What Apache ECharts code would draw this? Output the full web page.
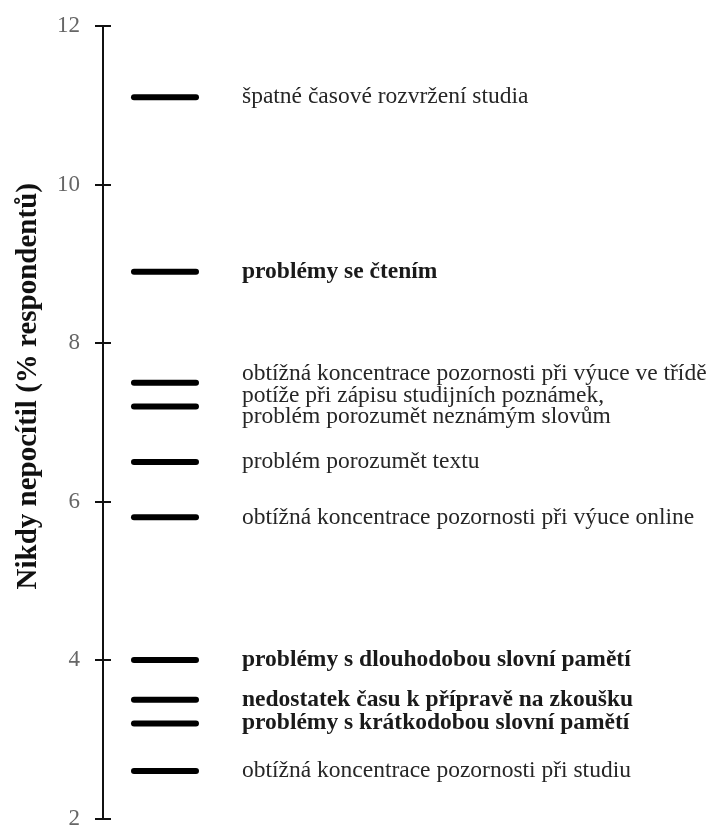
<!DOCTYPE html>
<html>
<head>
<meta charset="utf-8">
<script src="https://cdn.jsdelivr.net/npm/echarts@6/dist/echarts.min.js"></script>
<style>
  html, body { margin: 0; padding: 0; background: #fff; }
  #main { width: 712px; height: 830px; }
</style>
</head>
<body>
<div id="main"></div>
<script>
// data
const labels = [
  "špatné časové rozvržení studia",
  "problémy se čtením",
  "obtížná koncentrace pozornosti při výuce ve třídě",
  "potíže při zápisu studijních poznámek,\nproblém porozumět neznámým slovům",
  "problém porozumět textu",
  "obtížná koncentrace pozornosti při výuce online",
  "problémy s dlouhodobou slovní pamětí",
  "nedostatek času k přípravě na zkoušku",
  "problémy s krátkodobou slovní pamětí",
  "obtížná koncentrace pozornosti při studiu"
]
const values = [11.1, 8.9, 7.5, 7.2, 6.5, 5.8, 4.0, 3.5, 3.2, 2.6]
const yTicks = [2, 4, 6, 8, 10, 12]
const axisTitle = "Nikdy nepocítil (% respondentů)"

// chart
const serif = "'Liberation Serif', 'DejaVu Serif', serif"
const boldOnes = [1, 6, 7, 8]
const markX = 0.1033

const points = values.map((v, i) => ({
  value: [markX, v],
  label: {
    fontWeight: boldOnes.includes(i) ? "bold" : "normal",
    color: boldOnes.includes(i) ? "#1a1a1a" : "#262626",
    offset: i === 2 ? [0, -9] : [0, 0],
    formatter: labels[i]
  }
}))

const yBase = {
  type: "value",
  min: yTicks[0],
  max: yTicks[yTicks.length - 1],
  interval: 2,
  position: "left",
  splitLine: { show: false }
}

const options = {
  animation: false,
  grid: { left: 103, right: 9, top: 26, bottom: 8 },
  xAxis: { type: "value", min: 0, max: 1, show: false },
  yAxis: [
    {
      ...yBase,
      name: axisTitle,
      nameLocation: "middle",
      nameGap: 60,
      nameTextStyle: {
        fontFamily: serif, fontWeight: "bold", fontSize: 29, color: "#111",
        padding: [0, 0, 0, 72]
      },
      axisLine: { show: true, lineStyle: { color: "#111", width: 2 } },
      axisTick: { show: true, length: 8, lineStyle: { color: "#111", width: 2 } },
      axisLabel: { fontFamily: serif, fontSize: 23, color: "#666", margin: 23 }
    },
    {
      ...yBase,
      axisLine: { show: false },
      axisTick: { show: true, inside: true, length: 8, lineStyle: { color: "#111", width: 2 } },
      axisLabel: { show: false }
    }
  ],
  series: [{
    type: "scatter",
    symbol: "path://M3,0 H65 A3,3 0 0 1 65,6 H3 A3,3 0 0 1 3,0 Z",
    symbolSize: [68, 6],
    symbolKeepAspect: false,
    itemStyle: { color: "#000", opacity: 1 },
    label: {
      show: true,
      position: "right",
      distance: 43,
      fontFamily: serif,
      fontSize: 23.5,
      lineHeight: 21
    },
    data: points
  }]
}

const chartContainer = document.getElementById("main")
const myChart = echarts.init(chartContainer)
myChart.setOption(options)
window.onresize = () => myChart.resize()
</script>
</body>
</html>
